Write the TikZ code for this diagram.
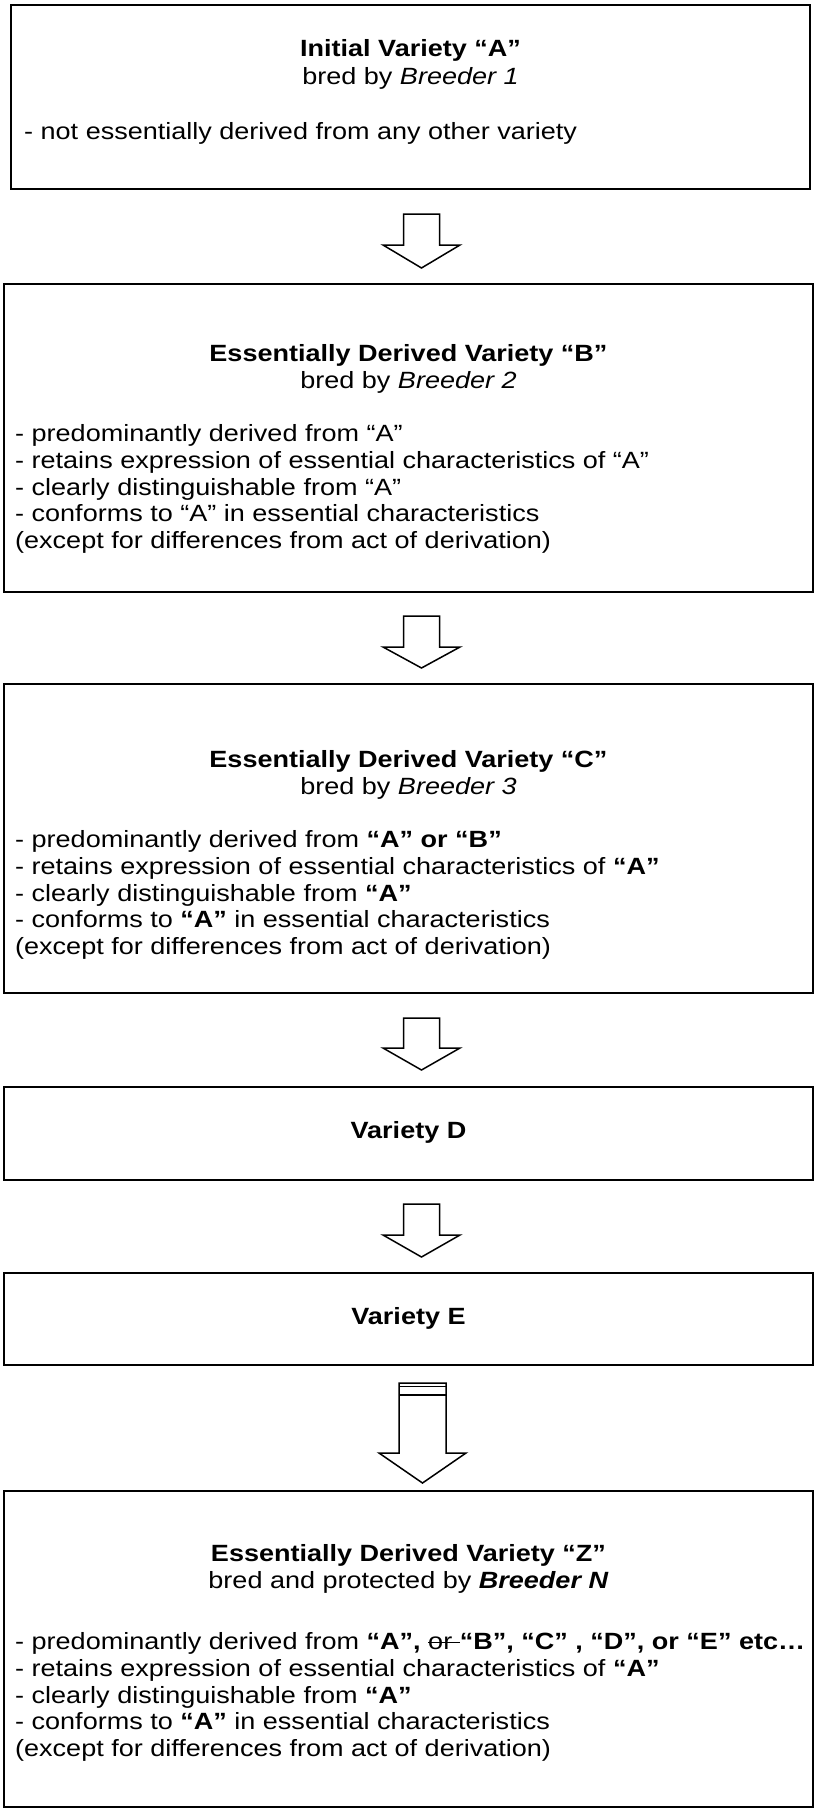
\documentclass[tikz,border=0pt]{standalone}
\usepackage{fontspec}
\setmainfont{Liberation Sans}[FakeStretch=1.15]
\newcommand\strk[1]{{\setbox0\hbox{#1}\rlap{\rule[0.28em]{\wd0}{0.06em}}\box0}}
\newcommand\blockarr[5]{% name, x center, top, head base, tip
  \draw[blk] (#2-18,#3) -- (#2+18,#3) -- (#2+18,#4) -- (#2+38.5,#4) -- (#2,#5) -- (#2-38.5,#4) -- (#2-18,#4) -- cycle;
  \coordinate (#1) at (#2,#5);}
\tikzset{
  every node/.style={font=\fontsize{23.5}{26.7}\selectfont, inner sep=0pt},
  box/.style={draw, line width=2.6pt, inner sep=0pt},
  blk/.style={draw, line width=1.5pt, fill=white, line join=miter},
  ttl/.style={font=\fontsize{23.5}{26.7}\selectfont\bfseries, anchor=center},
  txt/.style={anchor=center},
  lst/.style={anchor=west, align=left},
}
\begin{document}
\begin{tikzpicture}[x=1pt,y=-1pt]
\useasboundingbox (0,0) rectangle (815,1809);
\fill[white] (0,0) rectangle (815,1809);
% boxes
\node[box, minimum width=799pt, minimum height=184pt] (A) at (410.5,97) {};
\node[box, minimum width=809pt, minimum height=308pt] (B) at (408.5,438) {};
\node[box, minimum width=809pt, minimum height=309pt] (C) at (408.5,838.5) {};
\node[box, minimum width=809pt, minimum height=93pt] (D) at (408.5,1133.5) {};
\node[box, minimum width=809pt, minimum height=92pt] (E) at (408.5,1319) {};
\node[box, minimum width=809pt, minimum height=316pt] (Z) at (408.5,1649) {};
% box A text
\node[ttl] (At) at (410.5,50) {Initial Variety “A”};
\node[txt] (Ab) at (410.5,78) {bred by \textit{Breeder 1}};
\node[lst] (Al) at (24,133) {- not essentially derived from any other variety};
% box B text
\node[ttl] (Bt) at (408.5,355) {Essentially Derived Variety “B”};
\node[txt] (Bb) at (408.5,382) {bred by \textit{Breeder 2}};
\node[lst] (Bl) at (15,489) {- predominantly derived from “A”\\
- retains expression of essential characteristics of “A”\\
- clearly distinguishable from “A”\\
- conforms to “A” in essential characteristics\\
(except for differences from act of derivation)};
% box C text
\node[ttl] (Ct) at (408.5,761) {Essentially Derived Variety “C”};
\node[txt] (Cb) at (408.5,788) {bred by \textit{Breeder 3}};
\node[lst] (Cl) at (15,895) {- predominantly derived from \textbf{“A” or “B”}\\
- retains expression of essential characteristics of \textbf{“A”}\\
- clearly distinguishable from \textbf{“A”}\\
- conforms to \textbf{“A”} in essential characteristics\\
(except for differences from act of derivation)};
% box D, E text
\node[ttl] (Dt) at (408.5,1132) {Variety D};
\node[ttl] (Et) at (408.5,1318) {Variety E};
% box Z text
\node[ttl] (Zt) at (408.5,1555) {Essentially Derived Variety “Z”};
\node[txt] (Zb) at (408.5,1582) {bred and protected by \textbf{\textit{Breeder N}}};
\node[lst] (Zl) at (15,1697) {- predominantly derived from \textbf{“A”,} \strk{or }\textbf{“B”, “C” , “D”, or “E” etc…}\\
- retains expression of essential characteristics of \textbf{“A”}\\
- clearly distinguishable from \textbf{“A”}\\
- conforms to \textbf{“A”} in essential characteristics\\
(except for differences from act of derivation)};
% arrows
\blockarr{a1}{421.5}{214}{245}{268}
\blockarr{a2}{421.5}{616}{647}{668}
\blockarr{a3}{421.5}{1018}{1048}{1070}
\blockarr{a4}{421.5}{1204}{1235}{1257}
\draw[blk] (399,1383) -- (446,1383) -- (446,1453) -- (466,1453) -- (422.5,1483) -- (379,1453) -- (399,1453) -- cycle;
\draw[line width=1.5pt] (399,1386.5) -- (446,1386.5) (399,1395) -- (446,1395);
\coordinate (a5) at (422.5,1483);
\end{tikzpicture}
\end{document}
